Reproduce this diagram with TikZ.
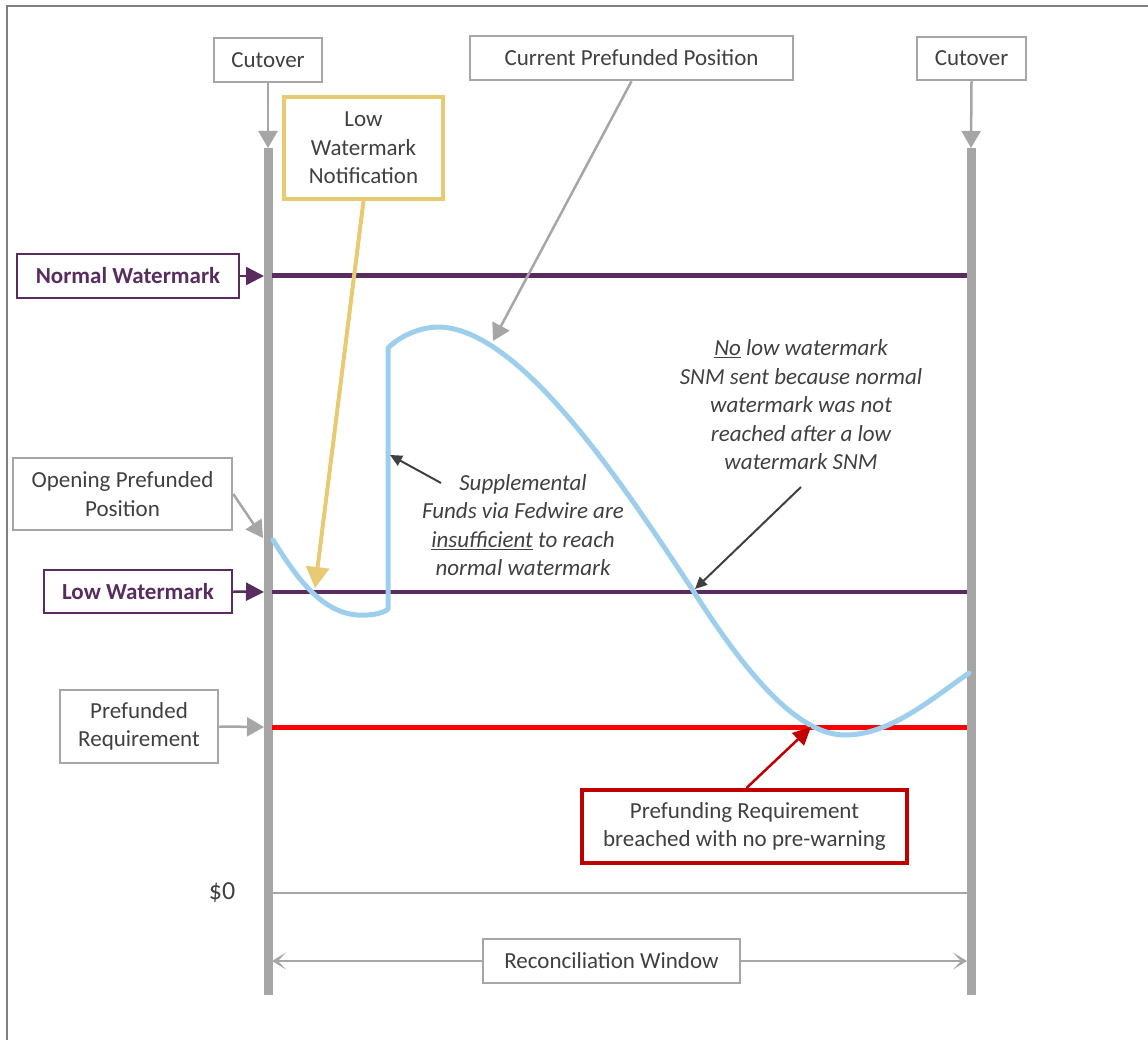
\documentclass[tikz,border=0pt]{standalone}
\usepackage{fontspec}
\setmainfont{Carlito}
\usetikzlibrary{arrows.meta}
\definecolor{bargray}{RGB}{166,166,166}
\definecolor{framegray}{RGB}{127,127,127}
\definecolor{txtgray}{RGB}{64,64,64}
\definecolor{wmpurple}{RGB}{89,44,95}
\definecolor{notyellow}{RGB}{232,202,115}
\definecolor{posblue}{RGB}{157,207,236}
\definecolor{breachred}{RGB}{192,0,0}
\tikzset{
  graybox/.style={draw=bargray, line width=2.5pt, align=center, inner sep=0pt, fill=white},
  wmbox/.style={draw=wmpurple, line width=2.5pt, inner sep=0pt, text=wmpurple, font=\fontsize{23}{28.5}\selectfont\bfseries},
  note/.style={align=center, inner sep=0pt, font=\fontsize{23}{28.5}\selectfont\itshape},
  bar/.style={draw=bargray, line width=9pt},
  grayarrow/.style={draw=bargray, line width=2.5pt, -{Triangle[length=17pt,width=19pt]}},
  notearrow/.style={draw=txtgray, line width=2pt, -{Triangle[length=12pt,width=11pt]}}
}
\begin{document}
\begin{tikzpicture}[x=1pt,y=-1pt,
  every node/.style={font=\fontsize{23}{28.5}\selectfont, text=txtgray}]
\useasboundingbox (0,0) rectangle (1148,1040);
% frame
\draw[framegray, line width=1.2pt] (7,1040) -- (7,6) -- (1148,6);

% cutover bars
\coordinate (barLtop) at (268,148);
\coordinate (barLbot) at (268,995);
\coordinate (barRtop) at (971,148);
\coordinate (barRbot) at (971,995);
\draw[bar] (barLtop) -- (barLbot);
\draw[bar] (barRtop) -- (barRbot);
\node[graybox, minimum width=108, minimum height=44] (cutL) at (268,60) {Cutover};
\node[graybox, minimum width=109, minimum height=43] (cutR) at (971.5,58.5) {Cutover};
\draw[grayarrow] (cutL.south) -- (barLtop);
\draw[grayarrow] (cutR.south) -- (barRtop);

% levels
\draw[wmpurple, line width=5pt] (272,276) -- (967,276);
\draw[wmpurple, line width=4.5pt] (272,592) -- (967,592);
\draw[red, line width=5pt] (272,727) -- (967,727);
\draw[bargray, line width=2pt] (272,893) -- (967,893);

% level labels
\node[wmbox, minimum width=222, minimum height=44] (nwm) at (128,276) {Normal Watermark};
\node[wmbox, minimum width=188, minimum height=43] (lwm) at (138,591.5) {Low Watermark};
\coordinate (nwmtip) at (264,276);
\coordinate (lwmtip) at (264,592);
\draw[wmpurple, line width=2.5pt, -{Triangle[length=18pt,width=18pt]}] (nwm.east) -- (nwmtip);
\draw[wmpurple, line width=2.5pt, -{Triangle[length=18pt,width=18pt]}] (lwm.east) -- (lwmtip);
\node[graybox, minimum width=219, minimum height=72] (open) at (122.5,494) {Opening Prefunded\\Position};
\node[graybox, minimum width=158, minimum height=73] (preq) at (139,726.5) {Prefunded\\Requirement};
\coordinate (opentip) at (263,538);
\coordinate (preqtip) at (264,727);
\draw[grayarrow] (open.east) -- (opentip);
\draw[grayarrow] (preq.east) -- (preqtip);
\node[font=\fontsize{26}{30}\selectfont] (zero) at (222,893) {\$0};

% prefunded position
\draw[posblue, line width=5pt, line join=round, line cap=round]
  (273,540) .. controls (295,575) and (320,612) .. (357,615)
  .. controls (375,616) and (385,612) .. (388,609) -- (388,348)
  .. controls (400,336) and (420,327) .. (439,327)
  .. controls (520,329) and (620,480) .. (694,592)
  .. controls (750,680) and (800,735) .. (845,735)
  .. controls (890,735) and (930,700) .. (969,673);

% current position
\node[graybox, minimum width=323, minimum height=44] (cur) at (631.5,58) {Current Prefunded Position};
\coordinate (curtip) at (493,341);
\draw[grayarrow] (cur.south) -- (curtip);

% low watermark notification
\node[draw=notyellow, line width=4pt, align=center, inner sep=0pt,
  minimum width=159, minimum height=102] (lwn) at (363.5,148) {Low\\Watermark\\Notification};
\coordinate (lwntip) at (315,588);
\draw[notyellow, line width=4pt, -{Triangle[length=21pt,width=23pt]}] (lwn.south) -- (lwntip);

% notes
\node[note] (supp) at (523,525) {Supplemental\\Funds via Fedwire are\\\underline{insufficient} to reach\\normal watermark};
\coordinate (suppfrom) at (441,483);
\coordinate (supptip) at (390,455);
\draw[notearrow] (suppfrom) -- (supptip);
\node[note] (nolow) at (801,405) {\underline{No} low watermark\\SNM sent because normal\\watermark was not\\reached after a low\\watermark SNM};
\coordinate (nolowfrom) at (801,487);
\coordinate (nolowtip) at (695,589);
\draw[notearrow] (nolowfrom) -- (nolowtip);

% breach
\node[draw=breachred, line width=4pt, align=center, inner sep=0pt, fill=white,
  minimum width=325, minimum height=73] (breach) at (744.5,826.5) {Prefunding Requirement\\breached with no pre-warning};
\coordinate (breachtip) at (811,727);
\draw[breachred, line width=2.5pt, -{Triangle[length=18pt,width=17pt]}] ([xshift=2pt]breach.north) -- (breachtip);

% reconciliation window
\node[graybox, minimum width=257, minimum height=44] (recon) at (611.5,961) {Reconciliation Window};
\coordinate (reconL) at (272,961);
\coordinate (reconR) at (967,961);
\draw[bargray, line width=2.5pt, -{Stealth[length=14pt,width=17pt,inset=8pt]}] (recon.west) -- (reconL);
\draw[bargray, line width=2.5pt, -{Stealth[length=14pt,width=17pt,inset=8pt]}] (recon.east) -- (reconR);
\end{tikzpicture}
\end{document}
